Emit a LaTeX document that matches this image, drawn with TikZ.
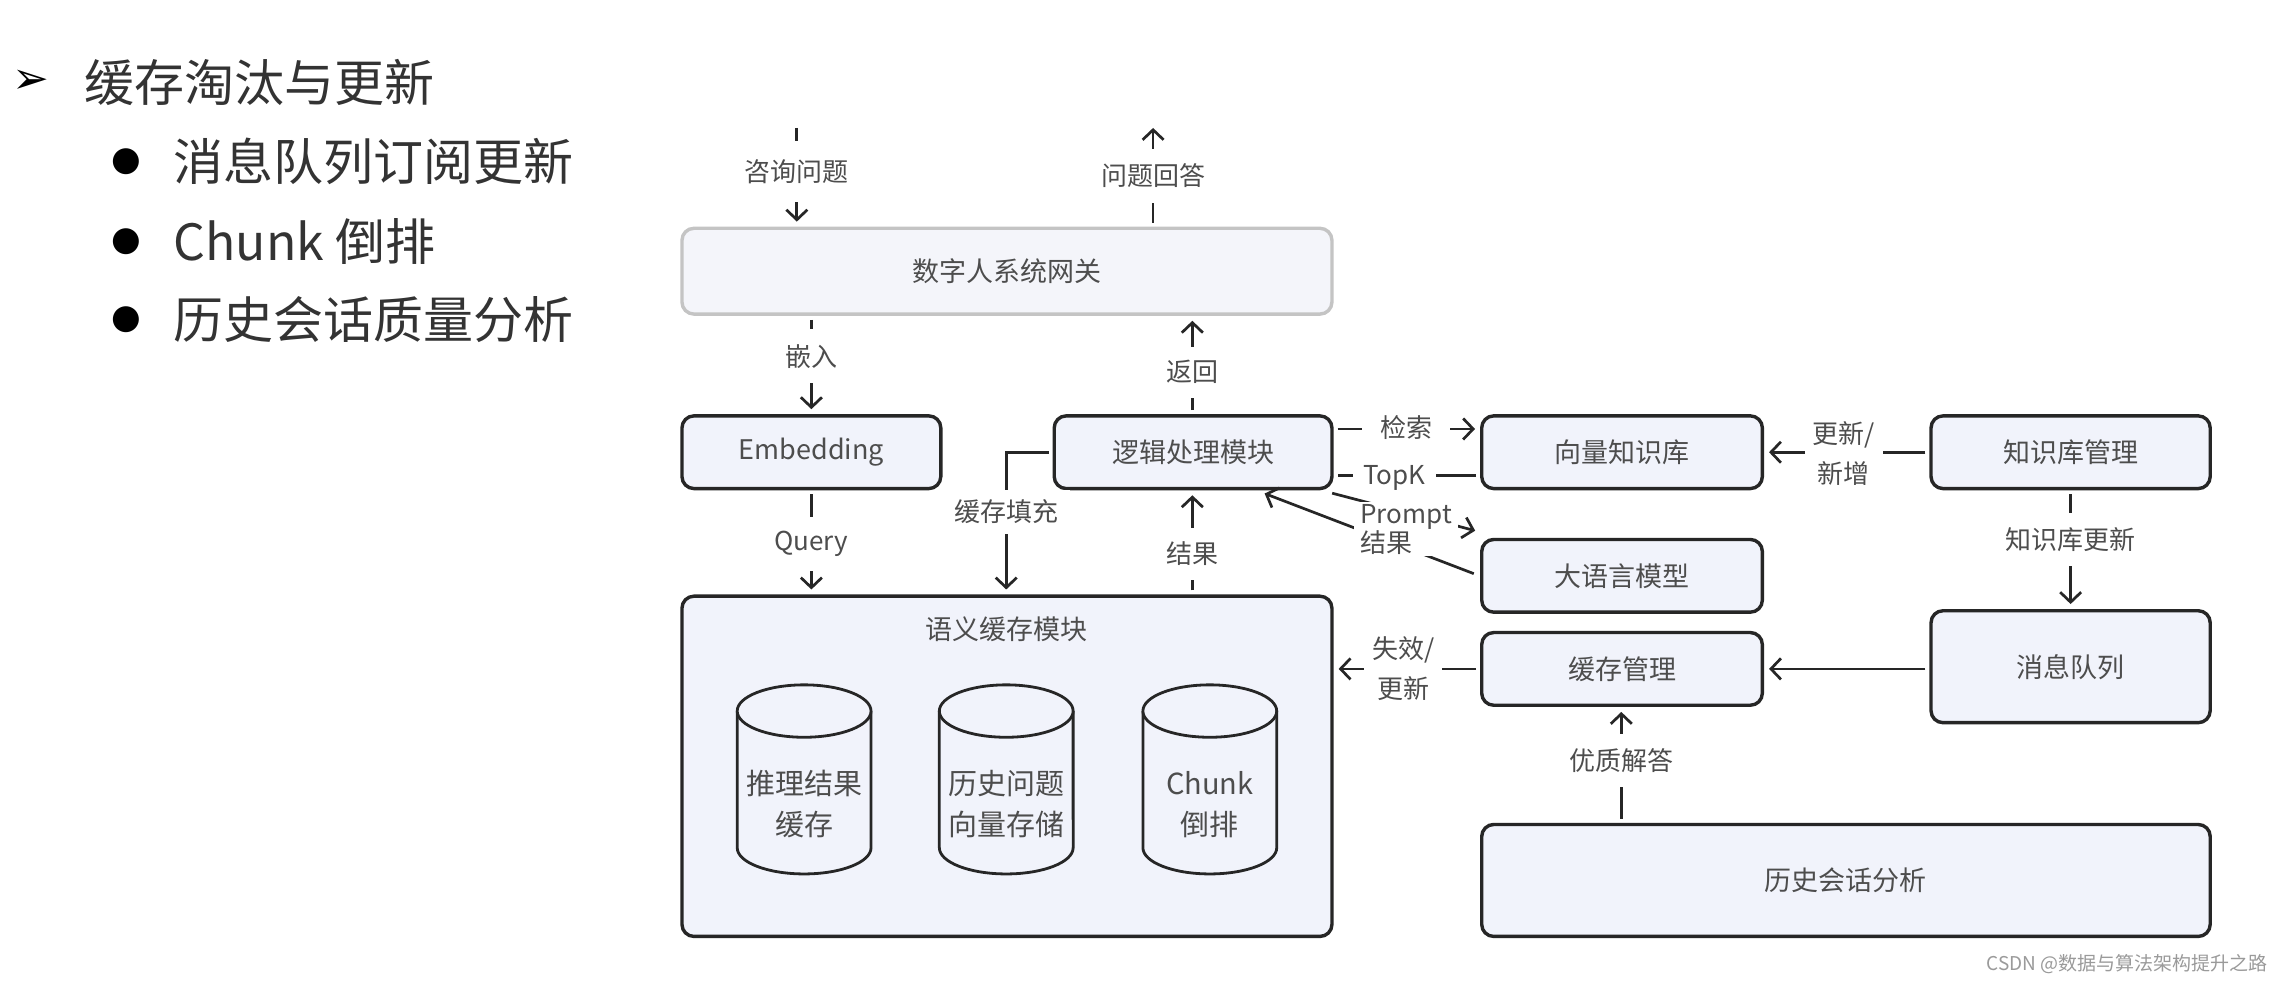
\documentclass[tikz,border=0pt]{standalone}
\usepackage{fontspec}
\setmainfont{Noto Sans CJK SC}
\newfontfamily\dejavu{DejaVu Sans}
\usetikzlibrary{arrows.meta,fit,calc}
\definecolor{boxfill}{HTML}{F1F3FB}
\definecolor{gwfill}{HTML}{F4F5FA}
\definecolor{gwline}{HTML}{C4C4C4}
\definecolor{dark}{HTML}{262626}
\definecolor{txt}{HTML}{4D4D4D}
\definecolor{head}{HTML}{333333}
\definecolor{wm}{HTML}{9A9A9A}
\begin{document}
\begin{tikzpicture}[x=1.454pt, y=-1.454pt,
  box/.style={draw=dark, line width=3.4pt, rounded corners=12pt, fill=boxfill, inner sep=0pt},
  gwbox/.style={box, draw=gwline, fill=gwfill},
  btxt/.style={text=txt, font=\fontsize{27pt}{32pt}\selectfont},
  cyltxt/.style={text=txt, align=center, font=\fontsize{29pt}{41pt}\selectfont},
  conn/.style={draw=dark, line width=2.7pt, -{Straight Barb[length=10pt,width=21pt]}, shorten >=5pt, shorten <=4pt},
  plainline/.style={draw=dark, line width=2.7pt, shorten <=4pt, shorten >=4pt},
  lab/.style={fill=white, text=txt, font=\fontsize{26pt}{32pt}\selectfont, inner xsep=12pt, inner ysep=14pt, align=center},
  big/.style={anchor=west, text=head, font=\fontsize{50pt}{56pt}\selectfont},
  cyl/.style={draw=dark, line width=2.8pt, fill=boxfill}
]
\useasboundingbox[fill=white] (0,0) rectangle (1568,678);

% left text
\node[font=\dejavu\fontsize{44pt}{48pt}\selectfont, text=black] (ar) at (21,56) {➢};
\node[big] (t0) at (56,57) {缓存淘汰与更新};
\node[font=\dejavu\fontsize{34pt}{38pt}\selectfont, text=black] (b1) at (87,111) {●};
\node[big] (t1) at (117,111) {消息队列订阅更新};
\node[font=\dejavu\fontsize{34pt}{38pt}\selectfont, text=black] (b2) at (87,166) {●};
\node[big] (t2) at (117,166) {Chunk 倒排};
\node[font=\dejavu\fontsize{34pt}{38pt}\selectfont, text=black] (b3) at (87,220) {●};
\node[big] (t3) at (117,220) {历史会话质量分析};

% boxes
\node[gwbox, fit={(469,157) (916,216)}, label={[btxt]center:数字人系统网关}] (gw) {};
\node[box, fit={(469,286) (647,336)}, label={[btxt]center:Embedding}] (emb) {};
\node[box, fit={(725,286) (916,336)}, label={[btxt]center:逻辑处理模块}] (lj) {};
\node[box, fit={(1019,286) (1212,336)}, label={[btxt]center:向量知识库}] (vk) {};
\node[box, fit={(1328,286) (1520,336)}, label={[btxt]center:知识库管理}] (km) {};
\node[box, fit={(1019,371) (1212,421)}, label={[btxt]center:大语言模型}] (llm) {};
\node[box, fit={(469,410) (916,644)}] (sem) {};
\node[btxt] (semt) at (692,433) {语义缓存模块};
\node[box, fit={(1019,435) (1212,485)}, label={[btxt]center:缓存管理}] (cm) {};
\node[box, fit={(1328,420) (1520,497)}, label={[btxt]center:消息队列}] (mq) {};
\node[box, fit={(1019,567) (1520,644)}, label={[btxt]center:历史会话分析}] (hist) {};

% cylinders
\foreach \cx in {553,692,832}{
  \filldraw[cyl] (\cx-46,489) -- (\cx-46,583) arc[start angle=180, end angle=360, x radius=66.9pt, y radius=26.2pt] -- (\cx+46,489);
  \filldraw[cyl] (\cx,489) ellipse [x radius=66.9pt, y radius=26.2pt];
}
\node[cyltxt] (c1) at (553,553) {推理结果\\缓存};
\node[cyltxt] (c2) at (692,553) {历史问题\\向量存储};
\node[cyltxt] (c3) at (832,553) {Chunk\\倒排};

% helper coordinates
\coordinate (inq) at (548,88);
\coordinate (outa) at (793,88);
\coordinate (xe) at (558,0);
\coordinate (xr) at (820,0);
\coordinate (xf) at (692,0);
\coordinate (xq) at (1115,0);
\coordinate (ya) at (0,295);
\coordinate (yb) at (0,327);

% connectors
\draw[conn, shorten <=0pt] (inq) -- (inq |- gw.north);
\node[lab, inner ysep=18pt] (linq) at (548,118) {咨询问题};

\draw[conn, shorten >=0pt] (outa |- gw.north) -- (outa);
\node[lab, inner ysep=15pt] (louta) at (793,121) {问题回答};

\draw[conn] (xe |- gw.south) -- (xe |- emb.north);
\node[lab, inner ysep=15pt] (lemb) at (558,245) {嵌入};

\draw[conn] (xr |- lj.north) -- (xr |- gw.south);
\node[lab] (lret) at (820,256) {返回};

\draw[conn] (xe |- emb.south) -- (xe |- sem.north);
\node[lab] (lqry) at (558,374) {Query};

\draw[conn] (lj.west) -| (xf |- sem.north);
\node[lab, inner ysep=10pt] (lfill) at (692,352) {缓存填充};

\draw[conn] (xr |- sem.north) -- (xr |- lj.south);
\node[lab] (lres) at (820,381) {结果};

\draw[conn] (lj.east |- ya) -- (vk.west |- ya);
\node[lab, inner xsep=18pt, inner ysep=4pt] (lsearch) at (967,294) {检索};

\draw[plainline] (vk.west |- yb) -- (lj.east |- yb);
\node[lab, inner xsep=10pt, inner ysep=4pt] (ltopk) at (959,329) {TopK};

\draw[conn, shorten <=0pt] ($(lj.south east)+(-1,2)$) -- ($(llm.north west)+(0,-4)$);
\draw[conn, shorten <=2pt] ($(llm.west)+(-3,-1)$) -- ($(lj.south)+(46,1)$);
\node[lab, align=left, inner xsep=6pt, inner ysep=2pt, font=\fontsize{26pt}{25pt}\selectfont] (lprompt) at (967,364) {Prompt\\结果};

\draw[conn] (km.west) -- (vk.east);
\node[lab, inner xsep=8pt, inner ysep=2pt, font=\fontsize{26pt}{40pt}\selectfont] (lupd) at (1268,312) {更新/\\新增};

\draw[conn] (km.south) -- (mq.north);
\node[lab] (lkbu) at (1424,371) {知识库更新};

\draw[conn] (mq.west |- cm.east) -- (cm.east);

\draw[conn] (cm.west) -- (sem.east |- cm.west);
\node[lab, inner xsep=8pt, inner ysep=2pt, font=\fontsize{26pt}{40pt}\selectfont] (linv) at (965,460) {失效/\\更新};

\draw[conn] (xq |- hist.north) -- (xq |- cm.south);
\node[lab] (lgood) at (1115,523) {优质解答};

% watermark
\node[anchor=east, text=wm, font=\fontsize{19pt}{22pt}\selectfont] (wmk) at (1562,663) {CSDN @数据与算法架构提升之路};
\end{tikzpicture}
\end{document}
